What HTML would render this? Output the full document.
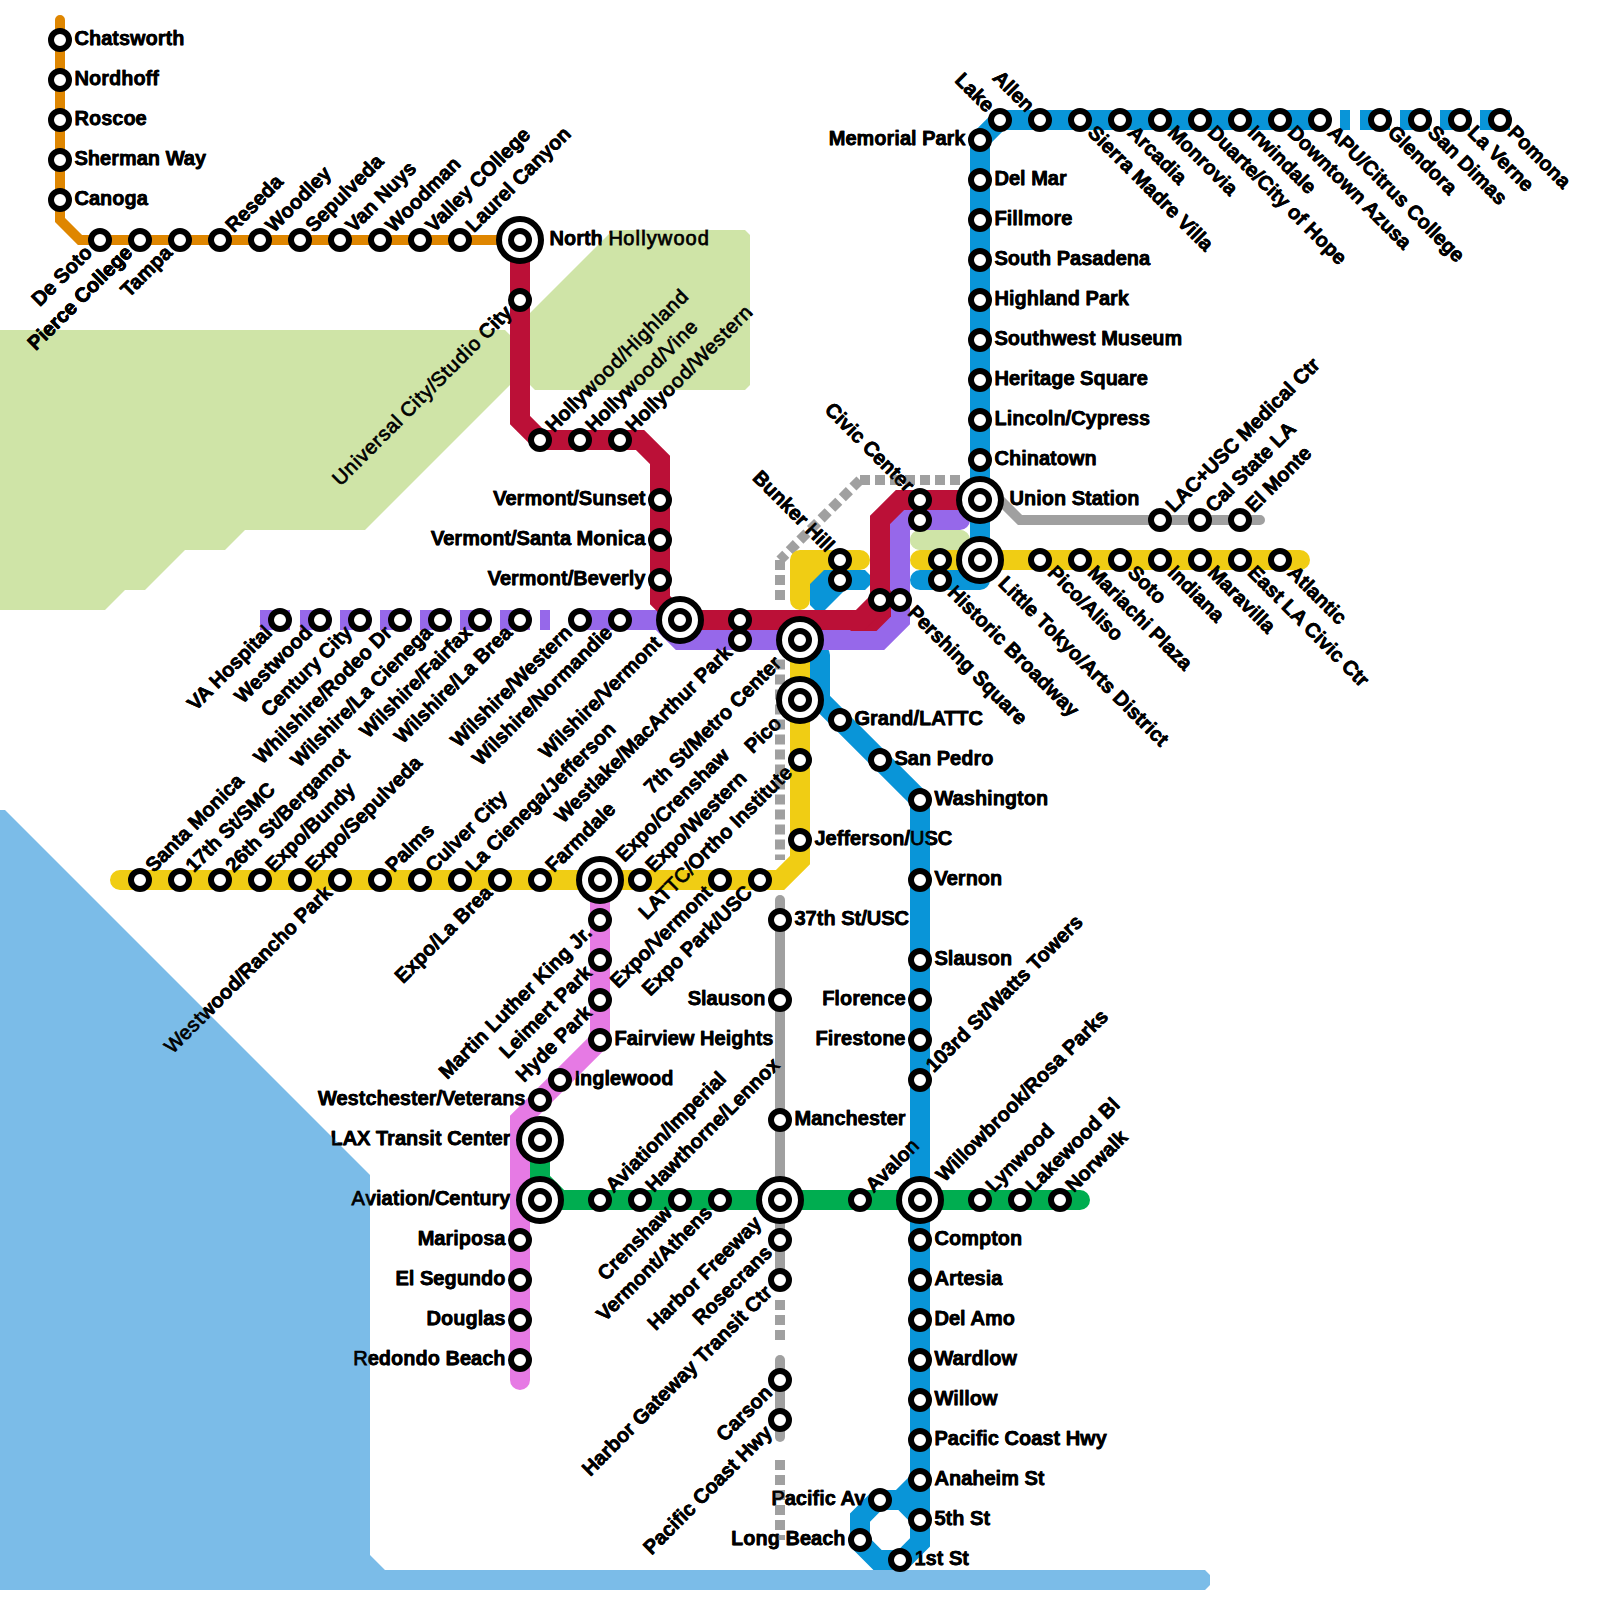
<!DOCTYPE html>
<html><head><meta charset="utf-8"><style>
html,body{margin:0;padding:0;background:#fff;}
svg{display:block;}
.lb text,.tn text{font-family:"Liberation Sans",sans-serif;font-size:20px;}
.lb text{font-weight:bold;}
</style></head><body>
<svg width="1600" height="1600" viewBox="0 0 1600 1600">
<rect width="1600" height="1600" fill="#fff"/>
<g class="lb" fill="#000" stroke="#000" stroke-width="0.5">
<text x="74.5" y="45" text-anchor="start">Chatsworth</text>
<text x="74.5" y="85" text-anchor="start">Nordhoff</text>
<text x="74.5" y="125" text-anchor="start">Roscoe</text>
<text x="74.5" y="165" text-anchor="start">Sherman Way</text>
<text x="74.5" y="205" text-anchor="start">Canoga</text>
<text x="85.5" y="245" text-anchor="end" transform="rotate(-45 100 240)">De Soto</text>
<text x="125.5" y="245" text-anchor="end" transform="rotate(-45 140 240)">Pierce College</text>
<text x="165.5" y="245" text-anchor="end" transform="rotate(-45 180 240)">Tampa</text>
<text x="234.5" y="245" text-anchor="start" transform="rotate(-45 220 240)">Reseda</text>
<text x="274.5" y="245" text-anchor="start" transform="rotate(-45 260 240)">Woodley</text>
<text x="314.5" y="245" text-anchor="start" transform="rotate(-45 300 240)">Sepulveda</text>
<text x="354.5" y="245" text-anchor="start" transform="rotate(-45 340 240)">Van Nuys</text>
<text x="394.5" y="245" text-anchor="start" transform="rotate(-45 380 240)">Woodman</text>
<text x="434.5" y="245" text-anchor="start" transform="rotate(-45 420 240)">Valley COllege</text>
<text x="474.5" y="245" text-anchor="start" transform="rotate(-45 460 240)">Laurel Canyon</text>
<text x="549.5" y="245" text-anchor="start">North Hollywood</text>
<text x="505.5" y="305" text-anchor="end" transform="rotate(-45 520 300)">Universal City/Studio City</text>
<text x="554.5" y="445" text-anchor="start" transform="rotate(-45 540 440)">Hollywood/Highland</text>
<text x="594.5" y="445" text-anchor="start" transform="rotate(-45 580 440)">Hollywood/Vine</text>
<text x="634.5" y="445" text-anchor="start" transform="rotate(-45 620 440)">Hollyood/Western</text>
<text x="645.5" y="505" text-anchor="end">Vermont/Sunset</text>
<text x="645.5" y="545" text-anchor="end">Vermont/Santa Monica</text>
<text x="645.5" y="585" text-anchor="end">Vermont/Beverly</text>
<text x="650.5" y="625" text-anchor="end" transform="rotate(-45 680 620)">Wilshire/Vermont</text>
<text x="725.5" y="645" text-anchor="end" transform="rotate(-45 740 640)">Westlake/MacArthur Park</text>
<text x="770.5" y="645" text-anchor="end" transform="rotate(-45 800 640)">7th St/Metro Center</text>
<text x="914.5" y="605" text-anchor="start" transform="rotate(45 900 600)">Pershing Square</text>
<text x="905.5" y="505" text-anchor="end" transform="rotate(45 920 500)">Civic Center</text>
<text x="1009.5" y="505" text-anchor="start">Union Station</text>
<text x="265.5" y="625" text-anchor="end" transform="rotate(-45 280 620)">VA Hospital</text>
<text x="305.5" y="625" text-anchor="end" transform="rotate(-45 320 620)">Westwood</text>
<text x="345.5" y="625" text-anchor="end" transform="rotate(-45 360 620)">Century City</text>
<text x="385.5" y="625" text-anchor="end" transform="rotate(-45 400 620)">Whilshire/Rodeo Dr</text>
<text x="425.5" y="625" text-anchor="end" transform="rotate(-45 440 620)">Wilshire/La Cienega</text>
<text x="465.5" y="625" text-anchor="end" transform="rotate(-45 480 620)">Wilshire/Fairfax</text>
<text x="505.5" y="625" text-anchor="end" transform="rotate(-45 520 620)">Wilshire/La Brea</text>
<text x="565.5" y="625" text-anchor="end" transform="rotate(-45 580 620)">Wilshire/Western</text>
<text x="605.5" y="625" text-anchor="end" transform="rotate(-45 620 620)">Wilshire/Normandie</text>
<text x="965.5" y="145" text-anchor="end">Memorial Park</text>
<text x="985.5" y="125" text-anchor="end" transform="rotate(45 1000 120)">Lake</text>
<text x="1025.5" y="125" text-anchor="end" transform="rotate(45 1040 120)">Allen</text>
<text x="1094.5" y="125" text-anchor="start" transform="rotate(45 1080 120)">Sierra Madre Villa</text>
<text x="1134.5" y="125" text-anchor="start" transform="rotate(45 1120 120)">Arcadia</text>
<text x="1174.5" y="125" text-anchor="start" transform="rotate(45 1160 120)">Monrovia</text>
<text x="1214.5" y="125" text-anchor="start" transform="rotate(45 1200 120)">Duarte/City of Hope</text>
<text x="1254.5" y="125" text-anchor="start" transform="rotate(45 1240 120)">Irwindale</text>
<text x="1294.5" y="125" text-anchor="start" transform="rotate(45 1280 120)">Downtown Azusa</text>
<text x="1334.5" y="125" text-anchor="start" transform="rotate(45 1320 120)">APU/Citrus College</text>
<text x="1394.5" y="125" text-anchor="start" transform="rotate(45 1380 120)">Glendora</text>
<text x="1434.5" y="125" text-anchor="start" transform="rotate(45 1420 120)">San Dimas</text>
<text x="1474.5" y="125" text-anchor="start" transform="rotate(45 1460 120)">La Verne</text>
<text x="1514.5" y="125" text-anchor="start" transform="rotate(45 1500 120)">Pomona</text>
<text x="994.5" y="185" text-anchor="start">Del Mar</text>
<text x="994.5" y="225" text-anchor="start">Fillmore</text>
<text x="994.5" y="265" text-anchor="start">South Pasadena</text>
<text x="994.5" y="305" text-anchor="start">Highland Park</text>
<text x="994.5" y="345" text-anchor="start">Southwest Museum</text>
<text x="994.5" y="385" text-anchor="start">Heritage Square</text>
<text x="994.5" y="425" text-anchor="start">Lincoln/Cypress</text>
<text x="994.5" y="465" text-anchor="start">Chinatown</text>
<text x="1009.5" y="565" text-anchor="start" transform="rotate(45 980 560)">Little Tokyo/Arts District</text>
<text x="954.5" y="585" text-anchor="start" transform="rotate(45 940 580)">Historic Broadway</text>
<text x="825.5" y="565" text-anchor="end" transform="rotate(45 840 560)">Bunker Hill</text>
<text x="770.5" y="705" text-anchor="end" transform="rotate(-45 800 700)">Pico</text>
<text x="854.5" y="725" text-anchor="start">Grand/LATTC</text>
<text x="894.5" y="765" text-anchor="start">San Pedro</text>
<text x="934.5" y="805" text-anchor="start">Washington</text>
<text x="934.5" y="885" text-anchor="start">Vernon</text>
<text x="934.5" y="965" text-anchor="start">Slauson</text>
<text x="905.5" y="1005" text-anchor="end">Florence</text>
<text x="905.5" y="1045" text-anchor="end">Firestone</text>
<text x="934.5" y="1085" text-anchor="start" transform="rotate(-45 920 1080)">103rd St/Watts Towers</text>
<text x="949.5" y="1205" text-anchor="start" transform="rotate(-45 920 1200)">Willowbrook/Rosa Parks</text>
<text x="934.5" y="1245" text-anchor="start">Compton</text>
<text x="934.5" y="1285" text-anchor="start">Artesia</text>
<text x="934.5" y="1325" text-anchor="start">Del Amo</text>
<text x="934.5" y="1365" text-anchor="start">Wardlow</text>
<text x="934.5" y="1405" text-anchor="start">Willow</text>
<text x="934.5" y="1445" text-anchor="start">Pacific Coast Hwy</text>
<text x="934.5" y="1485" text-anchor="start">Anaheim St</text>
<text x="934.5" y="1525" text-anchor="start">5th St</text>
<text x="914.5" y="1565" text-anchor="start">1st St</text>
<text x="845.5" y="1545" text-anchor="end">Long Beach</text>
<text x="865.5" y="1505" text-anchor="end">Pacific Av</text>
<text x="154.5" y="885" text-anchor="start" transform="rotate(-45 140 880)">Santa Monica</text>
<text x="194.5" y="885" text-anchor="start" transform="rotate(-45 180 880)">17th St/SMC</text>
<text x="234.5" y="885" text-anchor="start" transform="rotate(-45 220 880)">26th St/Bergamot</text>
<text x="274.5" y="885" text-anchor="start" transform="rotate(-45 260 880)">Expo/Bundy</text>
<text x="314.5" y="885" text-anchor="start" transform="rotate(-45 300 880)">Expo/Sepulveda</text>
<text x="325.5" y="885" text-anchor="end" transform="rotate(-45 340 880)">Westwood/Rancho Park</text>
<text x="394.5" y="885" text-anchor="start" transform="rotate(-45 380 880)">Palms</text>
<text x="434.5" y="885" text-anchor="start" transform="rotate(-45 420 880)">Culver City</text>
<text x="474.5" y="885" text-anchor="start" transform="rotate(-45 460 880)">La Cienega/Jefferson</text>
<text x="485.5" y="885" text-anchor="end" transform="rotate(-45 500 880)">Expo/La Brea</text>
<text x="554.5" y="885" text-anchor="start" transform="rotate(-45 540 880)">Farmdale</text>
<text x="654.5" y="885" text-anchor="start" transform="rotate(-45 640 880)">Expo/Western</text>
<text x="705.5" y="885" text-anchor="end" transform="rotate(-45 720 880)">Expo/Vermont</text>
<text x="745.5" y="885" text-anchor="end" transform="rotate(-45 760 880)">Expo Park/USC</text>
<text x="629.5" y="885" text-anchor="start" transform="rotate(-45 600 880)">Expo/Crenshaw</text>
<text x="814.5" y="845" text-anchor="start">Jefferson/USC</text>
<text x="785.5" y="765" text-anchor="end" transform="rotate(-45 800 760)">LATTC/Ortho Institute</text>
<text x="1054.5" y="565" text-anchor="start" transform="rotate(45 1040 560)">Pico/Aliso</text>
<text x="1094.5" y="565" text-anchor="start" transform="rotate(45 1080 560)">Mariachi Plaza</text>
<text x="1134.5" y="565" text-anchor="start" transform="rotate(45 1120 560)">Soto</text>
<text x="1174.5" y="565" text-anchor="start" transform="rotate(45 1160 560)">Indiana</text>
<text x="1214.5" y="565" text-anchor="start" transform="rotate(45 1200 560)">Maravilla</text>
<text x="1254.5" y="565" text-anchor="start" transform="rotate(45 1240 560)">East LA Civic Ctr</text>
<text x="1294.5" y="565" text-anchor="start" transform="rotate(45 1280 560)">Atlantic</text>
<text x="1174.5" y="525" text-anchor="start" transform="rotate(-45 1160 520)">LAC+USC Medical Ctr</text>
<text x="1214.5" y="525" text-anchor="start" transform="rotate(-45 1200 520)">Cal State LA</text>
<text x="1254.5" y="525" text-anchor="start" transform="rotate(-45 1240 520)">El Monte</text>
<text x="794.5" y="925" text-anchor="start">37th St/USC</text>
<text x="765.5" y="1005" text-anchor="end">Slauson</text>
<text x="794.5" y="1125" text-anchor="start">Manchester</text>
<text x="750.5" y="1205" text-anchor="end" transform="rotate(-45 780 1200)">Harbor Freeway</text>
<text x="765.5" y="1245" text-anchor="end" transform="rotate(-45 780 1240)">Rosecrans</text>
<text x="765.5" y="1285" text-anchor="end" transform="rotate(-45 780 1280)">Harbor Gateway Transit Ctr</text>
<text x="765.5" y="1385" text-anchor="end" transform="rotate(-45 780 1380)">Carson</text>
<text x="765.5" y="1425" text-anchor="end" transform="rotate(-45 780 1420)">Pacific Coast Hwy</text>
<text x="585.5" y="925" text-anchor="end" transform="rotate(-45 600 920)">Martin Luther King Jr.</text>
<text x="585.5" y="965" text-anchor="end" transform="rotate(-45 600 960)">Leimert Park</text>
<text x="585.5" y="1005" text-anchor="end" transform="rotate(-45 600 1000)">Hyde Park</text>
<text x="614.5" y="1045" text-anchor="start">Fairview Heights</text>
<text x="574.5" y="1085" text-anchor="start">Inglewood</text>
<text x="525.5" y="1105" text-anchor="end">Westchester/Veterans</text>
<text x="510.5" y="1145" text-anchor="end">LAX Transit Center</text>
<text x="510.5" y="1205" text-anchor="end">Aviation/Century</text>
<text x="505.5" y="1245" text-anchor="end">Mariposa</text>
<text x="505.5" y="1285" text-anchor="end">El Segundo</text>
<text x="505.5" y="1325" text-anchor="end">Douglas</text>
<text x="505.5" y="1365" text-anchor="end">Redondo Beach</text>
<text x="614.5" y="1205" text-anchor="start" transform="rotate(-45 600 1200)">Aviation/Imperial</text>
<text x="654.5" y="1205" text-anchor="start" transform="rotate(-45 640 1200)">Hawthorne/Lennox</text>
<text x="665.5" y="1205" text-anchor="end" transform="rotate(-45 680 1200)">Crenshaw</text>
<text x="705.5" y="1205" text-anchor="end" transform="rotate(-45 720 1200)">Vermont/Athens</text>
<text x="874.5" y="1205" text-anchor="start" transform="rotate(-45 860 1200)">Avalon</text>
<text x="994.5" y="1205" text-anchor="start" transform="rotate(-45 980 1200)">Lynwood</text>
<text x="1034.5" y="1205" text-anchor="start" transform="rotate(-45 1020 1200)">Lakewood Bl</text>
<text x="1074.5" y="1205" text-anchor="start" transform="rotate(-45 1060 1200)">Norwalk</text>
</g>
<polygon points="0,330 505,330 510,335 510,385 365,530 245,530 225,550 185,550 145,590 125,590 105,610 0,610" fill="#cfe4a7"/>
<polygon points="535,390 745,390 750,385 750,235 745,230 613,230 530,313 530,385" fill="#cfe4a7"/>
<path d="M920,540 L960,540" stroke="#cfe4a7" stroke-width="20" stroke-linecap="round"/>
<polygon points="0,810 5,810 370,1175 370,1555 385,1570 1205,1570 1210,1575 1210,1585 1205,1590 0,1590" fill="#7bbce8"/>
<g class="lb" fill="#000" stroke="#000" stroke-width="0.5"><text x="125.5" y="245" text-anchor="end" transform="rotate(-45 140 240)">Pierce College</text></g>
<path d="M960,480 L860,480" stroke="#a0a0a0" stroke-width="10" fill="none" stroke-linecap="butt" stroke-linejoin="miter" stroke-miterlimit="10" stroke-dasharray="10 5" stroke-dashoffset="0"/>
<path d="M860,480 L780,560" stroke="#a0a0a0" stroke-width="10" fill="none" stroke-linecap="butt" stroke-linejoin="miter" stroke-miterlimit="10" stroke-dasharray="10 5" stroke-dashoffset="0"/>
<path d="M780,560 L780,600" stroke="#a0a0a0" stroke-width="10" fill="none" stroke-linecap="butt" stroke-linejoin="miter" stroke-miterlimit="10" stroke-dasharray="10 5" stroke-dashoffset="0"/>
<path d="M780,659.5 L780,860" stroke="#a0a0a0" stroke-width="10" fill="none" stroke-linecap="butt" stroke-linejoin="miter" stroke-miterlimit="10" stroke-dasharray="10 5" stroke-dashoffset="0"/>
<path d="M780,900 L780,1280" stroke="#a0a0a0" stroke-width="10" fill="none" stroke-linecap="round" stroke-linejoin="miter" stroke-miterlimit="10"/>
<path d="M780,1300 L780,1340" stroke="#a0a0a0" stroke-width="10" fill="none" stroke-linecap="butt" stroke-linejoin="miter" stroke-miterlimit="10" stroke-dasharray="10 5" stroke-dashoffset="0"/>
<path d="M780,1360 L780,1437" stroke="#a0a0a0" stroke-width="10" fill="none" stroke-linecap="round" stroke-linejoin="miter" stroke-miterlimit="10"/>
<path d="M780,1460 L780,1540" stroke="#a0a0a0" stroke-width="10" fill="none" stroke-linecap="butt" stroke-linejoin="miter" stroke-miterlimit="10" stroke-dasharray="10 5" stroke-dashoffset="0"/>
<path d="M1000,500 L1020,520 L1260,520" stroke="#a0a0a0" stroke-width="10" fill="none" stroke-linecap="round" stroke-linejoin="miter" stroke-miterlimit="10"/>
<path d="M60,20 L60,220 L80,240 L520,240" stroke="#df8600" stroke-width="10" fill="none" stroke-linecap="round" stroke-linejoin="miter" stroke-miterlimit="10"/>
<path d="M120,880 L780,880 L800,860 L800,640" stroke="#f0cd14" stroke-width="20" fill="none" stroke-linecap="round" stroke-linejoin="miter" stroke-miterlimit="10"/>
<path d="M800,600 L800,560 L860,560" stroke="#f0cd14" stroke-width="20" fill="none" stroke-linecap="round" stroke-linejoin="round" stroke-miterlimit="10"/>
<polygon points="809,569 827,569 809,587" fill="#f0cd14"/>
<path d="M920,560 L1300,560" stroke="#f0cd14" stroke-width="20" fill="none" stroke-linecap="round" stroke-linejoin="miter" stroke-miterlimit="10"/>
<path d="M1320,120 L1000,120 L980,140 L980,560" stroke="#0995d8" stroke-width="20" fill="none" stroke-linecap="round" stroke-linejoin="miter" stroke-miterlimit="10"/>
<path d="M980,500 L980,580 L920,580" stroke="#0995d8" stroke-width="20" fill="none" stroke-linecap="round" stroke-linejoin="round" stroke-miterlimit="10"/>
<path d="M1510,120 L1340,120" stroke="#0995d8" stroke-width="20" fill="none" stroke-linecap="butt" stroke-linejoin="miter" stroke-miterlimit="10" stroke-dasharray="30 10" stroke-dashoffset="0"/>
<path d="M824,570 L865,570 L870,575 L870,585 L865,590 L845,590 L825,610 L815,610 L810,605 L810,584 Z" fill="#0995d8"/>
<path d="M820,655 L820,700 L920,800 L920,1530" stroke="#0995d8" stroke-width="20" fill="none" stroke-linecap="round" stroke-linejoin="miter" stroke-miterlimit="10"/>
<path d="M920,1480 L900,1500" stroke="#0995d8" stroke-width="20" fill="none" stroke-linecap="butt" stroke-linejoin="miter" stroke-miterlimit="10"/>
<path d="M877.57,1500 L902.43,1500 L920,1517.57 L920,1542.43 L902.43,1560 L877.57,1560 L860,1542.43 L860,1517.57 Z" stroke="#0995d8" stroke-width="20" fill="none" stroke-linejoin="miter"/>
<path d="M540,1140 L540,1180 L560,1200 L1080,1200" stroke="#00ad50" stroke-width="20" fill="none" stroke-linecap="round" stroke-linejoin="miter" stroke-miterlimit="10"/>
<path d="M600,880 L600,1040 L520,1120 L520,1380" stroke="#e67ae4" stroke-width="20" fill="none" stroke-linecap="round" stroke-linejoin="miter" stroke-miterlimit="10"/>
<path d="M580,620 L660,620 L680,640 L880,640 L900,620 L900,580" stroke="#9668ea" stroke-width="20" fill="none" stroke-linecap="round" stroke-linejoin="miter" stroke-miterlimit="10"/>
<path d="M900,600 L900,520 L960,520" stroke="#9668ea" stroke-width="20" fill="none" stroke-linecap="round" stroke-linejoin="round" stroke-miterlimit="10"/>
<path d="M920,540 L960,540" stroke="#cfe4a7" stroke-width="20" stroke-linecap="round"/>
<path d="M260,620 L550,620" stroke="#9668ea" stroke-width="20" fill="none" stroke-linecap="butt" stroke-linejoin="miter" stroke-miterlimit="10" stroke-dasharray="30 10" stroke-dashoffset="0"/>
<polygon points="850,631 876.5,631 891,616.5 891,590" fill="#bb1037"/>
<path d="M520,240 L520,420 L540,440 L640,440 L660,460 L660,600 L680,620 L860,620 L880,600 L880,520 L900,500 L980,500" stroke="#bb1037" stroke-width="20" fill="none" stroke-linecap="round" stroke-linejoin="miter" stroke-miterlimit="10"/>
<circle cx="60" cy="40" r="9" fill="#fff" stroke="#000" stroke-width="6"/>
<circle cx="60" cy="80" r="9" fill="#fff" stroke="#000" stroke-width="6"/>
<circle cx="60" cy="120" r="9" fill="#fff" stroke="#000" stroke-width="6"/>
<circle cx="60" cy="160" r="9" fill="#fff" stroke="#000" stroke-width="6"/>
<circle cx="60" cy="200" r="9" fill="#fff" stroke="#000" stroke-width="6"/>
<circle cx="100" cy="240" r="9" fill="#fff" stroke="#000" stroke-width="6"/>
<circle cx="140" cy="240" r="9" fill="#fff" stroke="#000" stroke-width="6"/>
<circle cx="180" cy="240" r="9" fill="#fff" stroke="#000" stroke-width="6"/>
<circle cx="220" cy="240" r="9" fill="#fff" stroke="#000" stroke-width="6"/>
<circle cx="260" cy="240" r="9" fill="#fff" stroke="#000" stroke-width="6"/>
<circle cx="300" cy="240" r="9" fill="#fff" stroke="#000" stroke-width="6"/>
<circle cx="340" cy="240" r="9" fill="#fff" stroke="#000" stroke-width="6"/>
<circle cx="380" cy="240" r="9" fill="#fff" stroke="#000" stroke-width="6"/>
<circle cx="420" cy="240" r="9" fill="#fff" stroke="#000" stroke-width="6"/>
<circle cx="460" cy="240" r="9" fill="#fff" stroke="#000" stroke-width="6"/>
<circle cx="520" cy="240" r="21" fill="#fff" stroke="#000" stroke-width="6"/><circle cx="520" cy="240" r="9" fill="#fff" stroke="#000" stroke-width="6"/>
<circle cx="520" cy="300" r="9" fill="#fff" stroke="#000" stroke-width="6"/>
<circle cx="540" cy="440" r="9" fill="#fff" stroke="#000" stroke-width="6"/>
<circle cx="580" cy="440" r="9" fill="#fff" stroke="#000" stroke-width="6"/>
<circle cx="620" cy="440" r="9" fill="#fff" stroke="#000" stroke-width="6"/>
<circle cx="660" cy="500" r="9" fill="#fff" stroke="#000" stroke-width="6"/>
<circle cx="660" cy="540" r="9" fill="#fff" stroke="#000" stroke-width="6"/>
<circle cx="660" cy="580" r="9" fill="#fff" stroke="#000" stroke-width="6"/>
<circle cx="680" cy="620" r="21" fill="#fff" stroke="#000" stroke-width="6"/><circle cx="680" cy="620" r="9" fill="#fff" stroke="#000" stroke-width="6"/>
<circle cx="740" cy="620" r="9" fill="#fff" stroke="#000" stroke-width="6"/>
<circle cx="740" cy="640" r="9" fill="#fff" stroke="#000" stroke-width="6"/>
<circle cx="800" cy="640" r="21" fill="#fff" stroke="#000" stroke-width="6"/><circle cx="800" cy="640" r="9" fill="#fff" stroke="#000" stroke-width="6"/>
<circle cx="880" cy="600" r="9" fill="#fff" stroke="#000" stroke-width="6"/>
<circle cx="900" cy="600" r="9" fill="#fff" stroke="#000" stroke-width="6"/>
<circle cx="920" cy="520" r="9" fill="#fff" stroke="#000" stroke-width="6"/>
<circle cx="920" cy="500" r="9" fill="#fff" stroke="#000" stroke-width="6"/>
<circle cx="980" cy="500" r="21" fill="#fff" stroke="#000" stroke-width="6"/><circle cx="980" cy="500" r="9" fill="#fff" stroke="#000" stroke-width="6"/>
<circle cx="280" cy="620" r="9" fill="#fff" stroke="#000" stroke-width="6"/>
<circle cx="320" cy="620" r="9" fill="#fff" stroke="#000" stroke-width="6"/>
<circle cx="360" cy="620" r="9" fill="#fff" stroke="#000" stroke-width="6"/>
<circle cx="400" cy="620" r="9" fill="#fff" stroke="#000" stroke-width="6"/>
<circle cx="440" cy="620" r="9" fill="#fff" stroke="#000" stroke-width="6"/>
<circle cx="480" cy="620" r="9" fill="#fff" stroke="#000" stroke-width="6"/>
<circle cx="520" cy="620" r="9" fill="#fff" stroke="#000" stroke-width="6"/>
<circle cx="580" cy="620" r="9" fill="#fff" stroke="#000" stroke-width="6"/>
<circle cx="620" cy="620" r="9" fill="#fff" stroke="#000" stroke-width="6"/>
<circle cx="980" cy="140" r="9" fill="#fff" stroke="#000" stroke-width="6"/>
<circle cx="1000" cy="120" r="9" fill="#fff" stroke="#000" stroke-width="6"/>
<circle cx="1040" cy="120" r="9" fill="#fff" stroke="#000" stroke-width="6"/>
<circle cx="1080" cy="120" r="9" fill="#fff" stroke="#000" stroke-width="6"/>
<circle cx="1120" cy="120" r="9" fill="#fff" stroke="#000" stroke-width="6"/>
<circle cx="1160" cy="120" r="9" fill="#fff" stroke="#000" stroke-width="6"/>
<circle cx="1200" cy="120" r="9" fill="#fff" stroke="#000" stroke-width="6"/>
<circle cx="1240" cy="120" r="9" fill="#fff" stroke="#000" stroke-width="6"/>
<circle cx="1280" cy="120" r="9" fill="#fff" stroke="#000" stroke-width="6"/>
<circle cx="1320" cy="120" r="9" fill="#fff" stroke="#000" stroke-width="6"/>
<circle cx="1380" cy="120" r="9" fill="#fff" stroke="#000" stroke-width="6"/>
<circle cx="1420" cy="120" r="9" fill="#fff" stroke="#000" stroke-width="6"/>
<circle cx="1460" cy="120" r="9" fill="#fff" stroke="#000" stroke-width="6"/>
<circle cx="1500" cy="120" r="9" fill="#fff" stroke="#000" stroke-width="6"/>
<circle cx="980" cy="180" r="9" fill="#fff" stroke="#000" stroke-width="6"/>
<circle cx="980" cy="220" r="9" fill="#fff" stroke="#000" stroke-width="6"/>
<circle cx="980" cy="260" r="9" fill="#fff" stroke="#000" stroke-width="6"/>
<circle cx="980" cy="300" r="9" fill="#fff" stroke="#000" stroke-width="6"/>
<circle cx="980" cy="340" r="9" fill="#fff" stroke="#000" stroke-width="6"/>
<circle cx="980" cy="380" r="9" fill="#fff" stroke="#000" stroke-width="6"/>
<circle cx="980" cy="420" r="9" fill="#fff" stroke="#000" stroke-width="6"/>
<circle cx="980" cy="460" r="9" fill="#fff" stroke="#000" stroke-width="6"/>
<circle cx="980" cy="560" r="21" fill="#fff" stroke="#000" stroke-width="6"/><circle cx="980" cy="560" r="9" fill="#fff" stroke="#000" stroke-width="6"/>
<circle cx="940" cy="560" r="9" fill="#fff" stroke="#000" stroke-width="6"/>
<circle cx="940" cy="580" r="9" fill="#fff" stroke="#000" stroke-width="6"/>
<circle cx="840" cy="580" r="9" fill="#fff" stroke="#000" stroke-width="6"/>
<circle cx="840" cy="560" r="9" fill="#fff" stroke="#000" stroke-width="6"/>
<circle cx="800" cy="700" r="21" fill="#fff" stroke="#000" stroke-width="6"/><circle cx="800" cy="700" r="9" fill="#fff" stroke="#000" stroke-width="6"/>
<circle cx="840" cy="720" r="9" fill="#fff" stroke="#000" stroke-width="6"/>
<circle cx="880" cy="760" r="9" fill="#fff" stroke="#000" stroke-width="6"/>
<circle cx="920" cy="800" r="9" fill="#fff" stroke="#000" stroke-width="6"/>
<circle cx="920" cy="880" r="9" fill="#fff" stroke="#000" stroke-width="6"/>
<circle cx="920" cy="960" r="9" fill="#fff" stroke="#000" stroke-width="6"/>
<circle cx="920" cy="1000" r="9" fill="#fff" stroke="#000" stroke-width="6"/>
<circle cx="920" cy="1040" r="9" fill="#fff" stroke="#000" stroke-width="6"/>
<circle cx="920" cy="1080" r="9" fill="#fff" stroke="#000" stroke-width="6"/>
<circle cx="920" cy="1200" r="21" fill="#fff" stroke="#000" stroke-width="6"/><circle cx="920" cy="1200" r="9" fill="#fff" stroke="#000" stroke-width="6"/>
<circle cx="920" cy="1240" r="9" fill="#fff" stroke="#000" stroke-width="6"/>
<circle cx="920" cy="1280" r="9" fill="#fff" stroke="#000" stroke-width="6"/>
<circle cx="920" cy="1320" r="9" fill="#fff" stroke="#000" stroke-width="6"/>
<circle cx="920" cy="1360" r="9" fill="#fff" stroke="#000" stroke-width="6"/>
<circle cx="920" cy="1400" r="9" fill="#fff" stroke="#000" stroke-width="6"/>
<circle cx="920" cy="1440" r="9" fill="#fff" stroke="#000" stroke-width="6"/>
<circle cx="920" cy="1480" r="9" fill="#fff" stroke="#000" stroke-width="6"/>
<circle cx="920" cy="1520" r="9" fill="#fff" stroke="#000" stroke-width="6"/>
<circle cx="900" cy="1560" r="9" fill="#fff" stroke="#000" stroke-width="6"/>
<circle cx="860" cy="1540" r="9" fill="#fff" stroke="#000" stroke-width="6"/>
<circle cx="880" cy="1500" r="9" fill="#fff" stroke="#000" stroke-width="6"/>
<circle cx="140" cy="880" r="9" fill="#fff" stroke="#000" stroke-width="6"/>
<circle cx="180" cy="880" r="9" fill="#fff" stroke="#000" stroke-width="6"/>
<circle cx="220" cy="880" r="9" fill="#fff" stroke="#000" stroke-width="6"/>
<circle cx="260" cy="880" r="9" fill="#fff" stroke="#000" stroke-width="6"/>
<circle cx="300" cy="880" r="9" fill="#fff" stroke="#000" stroke-width="6"/>
<circle cx="340" cy="880" r="9" fill="#fff" stroke="#000" stroke-width="6"/>
<circle cx="380" cy="880" r="9" fill="#fff" stroke="#000" stroke-width="6"/>
<circle cx="420" cy="880" r="9" fill="#fff" stroke="#000" stroke-width="6"/>
<circle cx="460" cy="880" r="9" fill="#fff" stroke="#000" stroke-width="6"/>
<circle cx="500" cy="880" r="9" fill="#fff" stroke="#000" stroke-width="6"/>
<circle cx="540" cy="880" r="9" fill="#fff" stroke="#000" stroke-width="6"/>
<circle cx="640" cy="880" r="9" fill="#fff" stroke="#000" stroke-width="6"/>
<circle cx="720" cy="880" r="9" fill="#fff" stroke="#000" stroke-width="6"/>
<circle cx="760" cy="880" r="9" fill="#fff" stroke="#000" stroke-width="6"/>
<circle cx="600" cy="880" r="21" fill="#fff" stroke="#000" stroke-width="6"/><circle cx="600" cy="880" r="9" fill="#fff" stroke="#000" stroke-width="6"/>
<circle cx="800" cy="840" r="9" fill="#fff" stroke="#000" stroke-width="6"/>
<circle cx="800" cy="760" r="9" fill="#fff" stroke="#000" stroke-width="6"/>
<circle cx="1040" cy="560" r="9" fill="#fff" stroke="#000" stroke-width="6"/>
<circle cx="1080" cy="560" r="9" fill="#fff" stroke="#000" stroke-width="6"/>
<circle cx="1120" cy="560" r="9" fill="#fff" stroke="#000" stroke-width="6"/>
<circle cx="1160" cy="560" r="9" fill="#fff" stroke="#000" stroke-width="6"/>
<circle cx="1200" cy="560" r="9" fill="#fff" stroke="#000" stroke-width="6"/>
<circle cx="1240" cy="560" r="9" fill="#fff" stroke="#000" stroke-width="6"/>
<circle cx="1280" cy="560" r="9" fill="#fff" stroke="#000" stroke-width="6"/>
<circle cx="1160" cy="520" r="9" fill="#fff" stroke="#000" stroke-width="6"/>
<circle cx="1200" cy="520" r="9" fill="#fff" stroke="#000" stroke-width="6"/>
<circle cx="1240" cy="520" r="9" fill="#fff" stroke="#000" stroke-width="6"/>
<circle cx="780" cy="920" r="9" fill="#fff" stroke="#000" stroke-width="6"/>
<circle cx="780" cy="1000" r="9" fill="#fff" stroke="#000" stroke-width="6"/>
<circle cx="780" cy="1120" r="9" fill="#fff" stroke="#000" stroke-width="6"/>
<circle cx="780" cy="1200" r="21" fill="#fff" stroke="#000" stroke-width="6"/><circle cx="780" cy="1200" r="9" fill="#fff" stroke="#000" stroke-width="6"/>
<circle cx="780" cy="1240" r="9" fill="#fff" stroke="#000" stroke-width="6"/>
<circle cx="780" cy="1280" r="9" fill="#fff" stroke="#000" stroke-width="6"/>
<circle cx="780" cy="1380" r="9" fill="#fff" stroke="#000" stroke-width="6"/>
<circle cx="780" cy="1420" r="9" fill="#fff" stroke="#000" stroke-width="6"/>
<circle cx="600" cy="920" r="9" fill="#fff" stroke="#000" stroke-width="6"/>
<circle cx="600" cy="960" r="9" fill="#fff" stroke="#000" stroke-width="6"/>
<circle cx="600" cy="1000" r="9" fill="#fff" stroke="#000" stroke-width="6"/>
<circle cx="600" cy="1040" r="9" fill="#fff" stroke="#000" stroke-width="6"/>
<circle cx="560" cy="1080" r="9" fill="#fff" stroke="#000" stroke-width="6"/>
<circle cx="540" cy="1100" r="9" fill="#fff" stroke="#000" stroke-width="6"/>
<circle cx="540" cy="1140" r="21" fill="#fff" stroke="#000" stroke-width="6"/><circle cx="540" cy="1140" r="9" fill="#fff" stroke="#000" stroke-width="6"/>
<circle cx="540" cy="1200" r="21" fill="#fff" stroke="#000" stroke-width="6"/><circle cx="540" cy="1200" r="9" fill="#fff" stroke="#000" stroke-width="6"/>
<circle cx="520" cy="1240" r="9" fill="#fff" stroke="#000" stroke-width="6"/>
<circle cx="520" cy="1280" r="9" fill="#fff" stroke="#000" stroke-width="6"/>
<circle cx="520" cy="1320" r="9" fill="#fff" stroke="#000" stroke-width="6"/>
<circle cx="520" cy="1360" r="9" fill="#fff" stroke="#000" stroke-width="6"/>
<circle cx="600" cy="1200" r="9" fill="#fff" stroke="#000" stroke-width="6"/>
<circle cx="640" cy="1200" r="9" fill="#fff" stroke="#000" stroke-width="6"/>
<circle cx="680" cy="1200" r="9" fill="#fff" stroke="#000" stroke-width="6"/>
<circle cx="720" cy="1200" r="9" fill="#fff" stroke="#000" stroke-width="6"/>
<circle cx="860" cy="1200" r="9" fill="#fff" stroke="#000" stroke-width="6"/>
<circle cx="980" cy="1200" r="9" fill="#fff" stroke="#000" stroke-width="6"/>
<circle cx="1020" cy="1200" r="9" fill="#fff" stroke="#000" stroke-width="6"/>
<circle cx="1060" cy="1200" r="9" fill="#fff" stroke="#000" stroke-width="6"/>
<g class="tn" fill="#000" stroke="#000" stroke-width="0.75">
<text x="74.50 89.48 101.16 112.84 119.50 130.61 146.16 158.39 166.17 172.82" y="45">Chatsworth</text>
<text x="74.50 89.48 101.72 109.48 121.70 133.91 146.33 152.80" y="85">Nordhoff</text>
<text x="74.50 89.48 101.72 112.84 123.95 135.62" y="125">Roscoe</text>
<text x="74.50 88.38 100.05 111.73 119.52 136.74 148.41 160.08 165.64 183.77 195.45" y="165">Sherman Way</text>
<text x="74.50 88.94 100.61 112.83 125.05 136.70" y="205">Canoga</text>
<text x="9.94 24.38 35.50 41.05 54.94 67.16 73.82" y="245" transform="rotate(-45 100 240)">De Soto</text>
<text x="-12.34 1.54 6.55 18.23 26.02 36.58 47.70 53.25 68.25 80.48 86.03 91.03 102.70 114.37" y="245" transform="rotate(-45 140 240)">Pierce College</text>
<text x="102.88 113.24 124.91 142.70 154.37" y="245" transform="rotate(-45 180 240)">Tampa</text>
<text x="234.50 248.94 260.62 271.18 282.86 294.52" y="245" transform="rotate(-45 220 240)">Reseda</text>
<text x="274.50 293.56 305.77 317.98 330.22 335.23 346.90" y="245" transform="rotate(-45 260 240)">Woodley</text>
<text x="314.50 327.83 339.50 351.72 363.95 369.51 380.06 391.73 403.41" y="245" transform="rotate(-45 300 240)">Sepulveda</text>
<text x="354.70 366.73 378.40 390.06 395.62 410.61 422.84 433.97" y="245" transform="rotate(-45 340 240)">Van Nuys</text>
<text x="394.50 413.56 425.77 437.98 450.22 467.44 479.11" y="245" transform="rotate(-45 380 240)">Woodman</text>
<text x="434.70 446.73 458.41 463.97 468.97 480.65 491.22 496.76 511.22 527.32 532.88 537.88 549.55 561.22" y="245" transform="rotate(-45 420 240)">Valley COllege</text>
<text x="475.05 486.70 498.38 510.61 517.83 529.51 534.52 540.06 554.52 566.19 578.41 589.52 601.73" y="245" transform="rotate(-45 460 240)">Laurel Canyon</text>
<text x="549.50 564.48 576.72 584.48 591.15 602.82 608.38 623.37 635.58 641.15 646.70 657.83 673.38 685.59 697.80" y="245">North Hollywood</text>
<text x="261.00 275.98 288.21 293.77 304.33 316.02 323.80 334.36 346.05 351.05 356.60 371.60 377.15 383.83 394.38 399.94 413.84 420.49 432.70 444.92 450.48 462.15 467.70 482.70 488.26 494.93" y="305" transform="rotate(-45 520 300)">Universal City/Studio City</text>
<text x="554.50 569.48 581.71 587.27 592.84 603.95 619.49 631.70 643.93 655.60 661.16 676.16 681.70 693.91 706.15 711.14 722.81 735.03" y="445" transform="rotate(-45 540 440)">Hollywood/Highland</text>
<text x="594.50 609.48 621.71 627.27 632.84 643.95 659.49 671.70 683.93 695.60 701.15 714.69 720.23 731.91" y="445" transform="rotate(-45 580 440)">Hollywood/Vine</text>
<text x="634.50 649.48 661.71 667.27 672.84 683.95 696.16 708.37 720.04 725.59 744.11 755.80 766.91 773.02 784.70 792.47" y="445" transform="rotate(-45 620 440)">Hollyood/Western</text>
<text x="493.23 505.47 517.16 524.94 542.70 554.91 567.15 573.24 578.80 592.69 604.91 617.15 627.71 639.38" y="505">Vermont/Sunset</text>
<text x="431.00 443.23 454.92 462.70 480.47 492.68 504.91 511.01 516.56 529.91 541.59 553.80 559.91 571.03 576.59 593.80 606.02 618.24 623.80 634.36" y="545">Vermont/Santa Monica</text>
<text x="487.64 499.88 511.56 519.34 537.11 549.32 561.55 567.65 573.76 587.66 599.34 609.91 621.58 629.37 634.92" y="585">Vermont/Beverly</text>
<text x="487.20 506.55 512.11 517.66 528.77 540.99 546.56 553.78 564.91 570.47 582.71 594.38 602.17 619.94 632.16 644.38" y="625" transform="rotate(-45 680 620)">Wilshire/Vermont</text>
<text x="484.66 503.17 514.84 525.95 532.63 537.62 549.31 559.88 570.99 576.55 593.21 604.90 616.01 630.47 638.24 644.90 657.11 669.34 676.57 682.12 695.45 707.14 714.92" y="645" transform="rotate(-45 740 640)">Westlake/MacArthur Park</text>
<text x="586.03 597.70 604.35 616.03 621.59 635.47 641.59 647.14 663.80 675.48 682.14 689.91 701.58 707.14 721.58 733.25 745.47 751.58 763.27" y="645" transform="rotate(-45 800 640)">7th St/Metro Center</text>
<text x="914.50 927.83 939.52 947.30 958.41 970.63 976.19 988.41 1000.06 1005.62 1019.52 1031.73 1043.41 1055.07 1062.31" y="605" transform="rotate(45 900 600)">Pershing Square</text>
<text x="788.78 803.77 809.34 820.45 826.02 836.58 842.13 856.59 868.26 880.47 886.58 898.27" y="505" transform="rotate(45 920 500)">Civic Center</text>
<text x="1009.50 1024.48 1036.71 1042.25 1054.47 1066.15 1071.70 1085.59 1091.70 1103.38 1110.03 1115.59 1127.80" y="505">Union Station</text>
<text x="155.48 168.06 181.03 186.59 201.58 213.81 224.92 237.15 242.70 248.80 260.49" y="625" transform="rotate(-45 280 620)">VA Hospital</text>
<text x="205.86 224.38 236.05 247.16 253.84 269.38 281.59 293.81" y="625" transform="rotate(-45 320 620)">Westwood</text>
<text x="226.59 241.03 252.70 264.93 271.58 283.81 291.59 302.15 307.71 322.70 328.27 334.93" y="625" transform="rotate(-45 360 620)">Century City</text>
<text x="199.92 219.34 231.57 237.12 242.69 253.79 266.02 271.58 278.80 289.93 295.48 310.48 322.70 334.36 346.03 357.70 363.26 378.27" y="625" transform="rotate(-45 400 620)">Whilshire/Rodeo Dr</text>
<text x="235.53 254.88 260.44 265.99 277.10 289.32 294.89 302.11 313.24 319.34 331.01 342.12 347.69 362.69 367.70 379.36 391.03 402.70 414.37" y="625" transform="rotate(-45 440 620)">Wilshire/La Cienega</text>
<text x="316.64 335.98 341.55 347.10 358.21 370.43 376.00 383.22 394.35 399.90 412.12 423.80 429.36 437.13 443.23 454.92" y="625" transform="rotate(-45 480 620)">Wilshire/Fairfax</text>
<text x="348.86 368.20 373.77 379.32 390.43 402.65 408.22 415.44 426.57 432.66 444.34 455.45 461.57 476.02 483.24 494.37" y="625" transform="rotate(-45 520 620)">Wilshire/La Brea</text>
<text x="403.69 423.03 428.59 434.15 445.26 457.48 463.05 470.27 481.40 486.95 505.46 517.15 528.26 534.37 546.06 553.82" y="625" transform="rotate(-45 580 620)">Wilshire/Western</text>
<text x="417.77 437.11 442.67 448.23 459.34 471.55 477.12 484.34 495.48 501.02 516.02 528.25 536.03 553.25 564.92 577.14 589.37 594.36" y="625" transform="rotate(-45 620 620)">Wilshire/Normandie</text>
<text x="828.77 845.42 857.11 874.88 887.11 894.88 899.88 911.55 916.56 922.12 935.45 947.14 954.92" y="145">Memorial Park</text>
<text x="940.45 952.11 963.80 974.36" y="125" transform="rotate(45 1000 120)">Lake</text>
<text x="977.15 991.58 997.15 1002.14 1013.81" y="125" transform="rotate(45 1040 120)">Allen</text>
<text x="1094.50 1108.38 1113.40 1125.08 1132.86 1140.08 1151.20 1156.77 1173.42 1185.09 1197.33 1204.54 1215.67 1221.22 1234.76 1240.30 1245.88 1250.87" y="125" transform="rotate(45 1080 120)">Sierra Madre Villa</text>
<text x="1135.05 1149.50 1157.29 1167.85 1179.52 1191.73 1196.74" y="125" transform="rotate(45 1120 120)">Arcadia</text>
<text x="1174.50 1191.70 1203.92 1216.16 1223.91 1236.15 1247.27 1252.27" y="125" transform="rotate(45 1160 120)">Monrovia</text>
<text x="1214.50 1229.48 1241.16 1252.84 1260.62 1266.73 1277.84 1283.41 1298.39 1303.96 1310.62 1321.18 1327.28 1339.51 1345.62 1351.17 1366.16 1378.38 1390.05" y="125" transform="rotate(45 1200 120)">Duarte/City of Hope</text>
<text x="1254.50 1260.61 1268.38 1283.95 1289.49 1301.70 1313.38 1325.06 1330.06" y="125" transform="rotate(45 1240 120)">Irwindale</text>
<text x="1294.50 1309.48 1321.71 1337.25 1349.47 1356.14 1368.36 1383.91 1395.76 1400.95 1414.84 1425.38 1437.61 1448.17" y="125" transform="rotate(45 1280 120)">Downtown Azusa</text>
<text x="1335.05 1348.94 1362.28 1376.72 1382.28 1397.27 1402.84 1409.49 1417.27 1429.51 1440.06 1445.62 1460.62 1472.83 1478.39 1483.39 1495.06 1506.73" y="125" transform="rotate(45 1320 120)">APU/Citrus College</text>
<text x="1394.50 1410.61 1415.62 1427.27 1439.49 1451.70 1463.94 1471.16" y="125" transform="rotate(45 1380 120)">Glendora</text>
<text x="1434.50 1447.83 1459.50 1471.17 1476.73 1491.73 1497.29 1514.52 1526.20" y="125" transform="rotate(45 1420 120)">San Dimas</text>
<text x="1475.05 1486.70 1497.83 1503.39 1515.62 1527.31 1535.08 1546.75" y="125" transform="rotate(45 1460 120)">La Verne</text>
<text x="1514.50 1528.38 1540.61 1558.38 1570.59 1582.27" y="125" transform="rotate(45 1500 120)">Pomona</text>
<text x="994.50 1008.94 1020.62 1025.61 1031.17 1047.83 1059.52" y="185">Del Mar</text>
<text x="994.50 1007.26 1012.83 1018.38 1023.94 1041.70 1053.94 1061.16" y="225">Fillmore</text>
<text x="994.50 1008.38 1020.59 1032.81 1039.48 1051.15 1056.70 1070.04 1081.72 1092.28 1103.96 1115.63 1127.30 1138.97" y="265">South Pasadena</text>
<text x="994.50 1009.49 1015.04 1027.25 1039.48 1044.48 1056.16 1068.37 1080.04 1085.60 1098.94 1110.62 1118.41" y="305">Highland Park</text>
<text x="994.50 1008.38 1020.59 1032.81 1039.48 1051.70 1066.70 1078.38 1089.51 1095.60 1101.16 1118.37 1130.60 1141.16 1152.83 1165.06" y="345">Southwest Museum</text>
<text x="994.50 1008.94 1020.62 1028.40 1033.95 1040.06 1051.73 1063.40 1074.52 1080.08 1093.97 1106.18 1117.85 1129.53 1136.76" y="385">Heritage Square</text>
<text x="995.05 1007.26 1012.81 1025.05 1036.16 1048.38 1053.92 1065.60 1071.15 1086.16 1097.27 1109.50 1116.72 1128.41 1139.53" y="425">Lincoln/Cypress</text>
<text x="994.50 1009.48 1021.71 1027.25 1038.92 1050.60 1057.26 1069.48 1085.03" y="465">Chinatown</text>
<text x="1010.05 1022.26 1027.82 1034.47 1041.15 1046.14 1057.45 1063.19 1074.10 1086.33 1097.45 1108.57 1120.24 1126.34 1140.80 1148.56 1155.23 1165.80 1171.35 1186.36 1191.92 1203.03 1209.70 1217.48 1223.05 1234.16" y="565" transform="rotate(45 980 560)">Little Tokyo/Arts District</text>
<text x="954.50 969.49 975.05 986.16 992.82 1005.06 1012.84 1018.39 1028.95 1035.06 1049.52 1057.28 1068.95 1080.62 1092.85 1107.85 1119.53" y="585" transform="rotate(45 940 580)">Historic Broadway</text>
<text x="720.48 734.91 747.12 759.35 769.91 781.59 788.82 794.38 809.38 814.94 820.49" y="565" transform="rotate(45 840 560)">Bunker Hill</text>
<text x="728.25 742.13 747.70 758.82" y="705" transform="rotate(-45 800 700)">Pico</text>
<text x="854.50 870.61 877.83 889.50 901.72 913.38 919.50 931.72 944.12 956.34 968.56" y="725">Grand/LATTC</text>
<text x="894.50 907.83 919.50 931.17 936.73 950.06 961.73 973.97 981.73" y="765">San Pedro</text>
<text x="934.50 952.62 964.31 975.42 987.65 993.19 1005.41 1017.62 1024.29 1036.51" y="805">Washington</text>
<text x="934.50 946.73 958.42 966.18 978.41 990.62" y="885">Vernon</text>
<text x="934.50 948.38 953.40 965.07 977.29 988.40 1000.61" y="965">Slauson</text>
<text x="822.14 834.90 840.45 852.69 859.91 871.58 883.81 894.38" y="1005">Florence</text>
<text x="815.47 828.23 833.80 841.02 852.70 863.82 870.48 882.69 894.36" y="1045">Firestone</text>
<text x="934.50 945.61 956.73 968.42 976.19 987.86 993.41 1007.32 1013.41 1018.98 1037.12 1048.78 1055.44 1062.11 1072.86 1078.60 1089.52 1101.74 1116.73 1128.42 1136.21" y="1085" transform="rotate(-45 920 1080)">103rd St/Watts Towers</text>
<text x="949.41 968.75 974.31 979.86 985.41 997.64 1013.19 1025.42 1033.19 1045.40 1057.63 1068.20 1073.75 1088.73 1100.97 1111.53 1122.66 1128.21 1141.55 1153.23 1161.02 1172.14" y="1205" transform="rotate(-45 920 1200)">Willowbrook/Rosa Parks</text>
<text x="934.50 949.48 961.72 979.48 991.71 998.37 1010.58" y="1245">Compton</text>
<text x="935.05 949.50 957.27 963.38 975.06 986.19 991.18" y="1285">Artesia</text>
<text x="934.50 948.94 960.62 965.79 970.98 985.44 1003.20" y="1325">Del Amo</text>
<text x="934.50 952.62 964.31 972.08 984.31 989.86 1002.08" y="1365">Wardlow</text>
<text x="934.41 953.75 959.31 964.86 970.41 982.64" y="1405">Willow</text>
<text x="934.50 947.83 959.52 970.64 976.20 982.85 988.42 998.98 1004.53 1019.52 1031.19 1042.88 1053.98 1060.10 1065.66 1080.66 1096.22" y="1445">Pacific Coast Hwy</text>
<text x="935.05 949.48 961.16 972.82 984.49 996.17 1001.73 1018.95 1024.51 1038.41" y="1485">Anaheim St</text>
<text x="934.50 946.16 952.82 964.50 970.05 983.94" y="1525">5th St</text>
<text x="914.50 926.17 937.28 943.40 948.96 962.84" y="1565">1st St</text>
<text x="731.59 743.80 756.02 768.23 779.91 786.02 799.91 811.03 822.72 833.82" y="1545">Long Beach</text>
<text x="771.38 784.70 796.39 807.52 813.07 819.73 825.30 836.03 841.03 854.92" y="1505">Pacific Av</text>
<text x="154.50 167.83 179.50 191.72 197.84 208.96 214.52 231.72 243.94 256.16 261.73 272.29" y="885" transform="rotate(-45 140 880)">Santa Monica</text>
<text x="194.50 205.61 217.28 223.95 235.62 241.17 255.06 261.18 266.73 280.07 296.73" y="885" transform="rotate(-45 180 880)">17th St/SMC</text>
<text x="234.50 245.61 257.28 263.95 275.62 281.17 295.06 301.18 307.28 321.17 332.86 340.62 352.30 363.98 381.75 393.97" y="885" transform="rotate(-45 220 880)">26th St/Bergamot</text>
<text x="274.50 288.39 299.50 311.72 323.38 329.51 343.94 356.16 368.37 380.60" y="885" transform="rotate(-45 260 880)">Expo/Bundy</text>
<text x="314.50 328.39 339.50 351.72 363.38 368.95 382.28 393.95 406.17 418.40 423.96 434.52 446.19 457.86" y="885" transform="rotate(-45 300 880)">Expo/Sepulveda</text>
<text x="98.05 116.56 128.23 139.34 146.02 161.56 173.78 186.00 197.66 203.23 217.67 229.34 241.57 252.67 264.90 276.57 282.12 295.46 307.14 314.93" y="885" transform="rotate(-45 340 880)">Westwood/Rancho Park</text>
<text x="394.50 407.83 419.52 425.08 442.86" y="885" transform="rotate(-45 380 880)">Palms</text>
<text x="434.50 449.48 461.71 467.27 477.83 489.52 496.73 502.30 517.29 522.85 529.52" y="885" transform="rotate(-45 420 880)">Culver City</text>
<text x="475.05 486.70 497.83 503.39 518.38 523.40 535.07 546.73 558.40 570.06 581.19 587.31 597.88 609.73 616.20 622.32 634.00 641.78 652.89 665.12" y="885" transform="rotate(-45 460 880)">La Cienega/Jefferson</text>
<text x="357.67 371.56 382.67 394.89 406.55 412.67 424.34 435.45 441.56 456.02 463.23 474.36" y="885" transform="rotate(-45 500 880)">Expo/La Brea</text>
<text x="554.50 566.70 578.39 586.17 603.95 615.62 627.30 632.30" y="885" transform="rotate(-45 540 880)">Farmdale</text>
<text x="654.50 668.39 679.50 691.72 703.38 708.95 727.47 739.15 750.26 756.37 768.05 775.82" y="885" transform="rotate(-45 640 880)">Expo/Western</text>
<text x="571.02 584.91 596.02 608.23 619.90 625.47 637.70 649.39 657.17 674.94 687.15 699.38" y="885" transform="rotate(-45 720 880)">Expo/Vermont</text>
<text x="599.89 613.78 624.89 637.11 648.77 654.34 667.67 679.36 687.15 697.71 703.27 717.71 731.04" y="885" transform="rotate(-45 760 880)">Expo Park/USC</text>
<text x="629.50 643.39 654.50 666.72 678.38 683.95 698.95 706.17 717.84 730.08 741.18 752.85 764.53" y="885" transform="rotate(-45 600 880)">Expo/Crenshaw</text>
<text x="815.06 825.62 837.46 843.96 850.07 861.74 869.53 880.64 892.86 904.52 910.08 924.52 937.86" y="845">Jefferson/USC</text>
<text x="578.67 590.88 603.30 615.51 627.73 642.16 647.73 663.84 671.62 678.27 690.48 702.16 707.72 713.82 726.05 737.16 743.84 749.38 756.03 768.26 774.37" y="765" transform="rotate(-45 800 760)">LATTC/Ortho Institute</text>
<text x="1054.50 1068.38 1073.95 1085.07 1096.73 1102.84 1117.29 1122.84 1128.41 1139.52" y="565" transform="rotate(45 1040 560)">Pico/Aliso</text>
<text x="1094.50 1111.16 1122.84 1130.62 1135.61 1147.30 1158.41 1170.64 1175.63 1181.19 1195.09 1200.09 1211.21 1221.21" y="565" transform="rotate(45 1080 560)">Mariachi Plaza</text>
<text x="1134.50 1148.38 1160.59 1167.25" y="565" transform="rotate(45 1120 560)">Soto</text>
<text x="1174.50 1180.59 1192.81 1205.04 1210.04 1221.70 1233.38" y="565" transform="rotate(45 1160 560)">Indiana</text>
<text x="1214.50 1231.16 1242.84 1250.06 1261.74 1272.87 1278.42 1283.98 1288.97" y="565" transform="rotate(45 1200 560)">Maravilla</text>
<text x="1254.50 1267.83 1279.52 1290.62 1296.74 1302.84 1315.25 1328.21 1333.77 1348.77 1354.33 1365.45 1371.02 1381.57 1387.13 1402.12 1408.80" y="565" transform="rotate(45 1240 560)">East LA Civic Ctr</text>
<text x="1295.05 1309.48 1316.16 1321.16 1332.82 1345.05 1351.71 1357.27" y="565" transform="rotate(45 1280 560)">Atlantic</text>
<text x="1175.05 1187.26 1201.16 1215.60 1227.28 1241.72 1255.06 1269.51 1275.06 1291.72 1303.39 1315.62 1321.18 1331.74 1343.41 1348.42 1353.97 1368.98 1375.63" y="525" transform="rotate(-45 1160 520)">LAC+USC Medical Ctr</text>
<text x="1214.50 1228.94 1240.62 1245.61 1251.18 1265.07 1271.17 1282.84 1288.96 1300.09 1306.18 1318.41" y="525" transform="rotate(-45 1200 520)">Cal State LA</text>
<text x="1254.50 1268.38 1273.39 1278.95 1296.16 1308.37 1320.59 1326.70" y="525" transform="rotate(-45 1240 520)">El Monte</text>
<text x="794.50 805.61 817.28 823.95 835.62 841.17 855.06 861.18 866.73 881.18 894.52" y="925">37th St/USC</text>
<text x="687.70 701.59 706.60 718.27 730.49 741.60 753.81" y="1005">Slauson</text>
<text x="794.50 811.16 822.83 835.06 846.16 857.83 869.52 880.62 886.73 898.42" y="1125">Manchester</text>
<text x="599.33 613.77 625.45 633.22 645.44 657.67 664.88 670.45 683.22 690.44 701.57 713.25 728.25 739.93" y="1205" transform="rotate(-45 780 1200)">Harbor Freeway</text>
<text x="663.22 678.20 690.44 700.99 712.68 723.80 731.02 742.69 754.92" y="1245" transform="rotate(-45 780 1240)">Rosecrans</text>
<text x="506.53 520.97 532.66 540.42 552.64 564.88 572.09 577.65 593.20 604.88 610.98 622.67 637.66 649.35 660.09 665.28 677.14 684.36 696.03 708.27 719.39 724.94 731.05 736.60 751.60 758.26" y="1285" transform="rotate(-45 780 1280)">Harbor Gateway Transit Ctr</text>
<text x="696.59 711.03 722.72 730.50 741.61 753.82" y="1385" transform="rotate(-45 780 1380)">Carson</text>
<text x="593.20 606.53 618.22 629.34 634.90 641.55 647.12 657.68 663.23 678.23 689.89 701.58 712.69 718.80 724.36 739.36 754.92" y="1425" transform="rotate(-45 780 1420)">Pacific Coast Hwy</text>
<text x="378.81 395.47 407.16 414.93 421.59 427.13 438.81 444.91 457.12 469.34 476.00 487.68 499.36 506.59 512.69 527.14 532.69 544.90 556.56 562.69 573.81 579.93" y="925" transform="rotate(-45 600 920)">Martin Luther King Jr.</text>
<text x="464.88 476.53 488.21 493.78 511.00 522.69 530.45 536.57 542.12 555.46 567.16 574.93" y="965" transform="rotate(-45 600 960)">Leimert Park</text>
<text x="487.66 502.66 513.77 525.43 536.56 542.11 555.45 567.14 574.92" y="1005" transform="rotate(-45 600 1000)">Hyde Park</text>
<text x="614.50 626.70 638.38 643.95 651.73 662.85 667.85 679.53 694.54 700.09 714.54 726.20 731.76 743.98 756.20 762.87" y="1045">Fairview Heights</text>
<text x="574.50 580.59 592.81 605.04 610.04 621.72 637.27 649.48 661.70" y="1085">Inglewood</text>
<text x="317.97 336.48 348.16 359.27 365.95 377.05 388.72 400.41 411.52 417.62 429.31 436.54 442.09 454.33 466.00 472.11 483.80 491.02 502.69 514.92" y="1105">Westchester/Veterans</text>
<text x="331.00 343.21 357.10 370.63 375.81 387.67 394.90 406.56 418.80 429.92 435.47 441.59 447.13 461.58 473.26 485.48 491.58 503.27" y="1145">LAX Transit Center</text>
<text x="351.58 365.47 376.59 381.60 393.27 399.94 405.48 417.70 429.36 434.92 449.36 461.03 473.26 479.91 492.13 499.92" y="1205">Aviation/Century</text>
<text x="417.69 434.34 446.03 453.80 459.34 471.56 483.80 494.36" y="1245">Mariposa</text>
<text x="395.50 409.38 414.39 419.95 433.28 444.95 457.17 469.40 481.62 493.82" y="1285">El Segundo</text>
<text x="426.59 441.58 453.80 466.02 478.24 483.23 494.92" y="1325">Douglas</text>
<text x="353.25 367.69 379.36 391.58 403.80 416.00 428.22 439.89 446.01 459.90 471.02 482.70 493.81" y="1365">Redondo Beach</text>
<text x="614.86 628.75 639.88 644.88 656.55 663.22 668.76 680.98 692.64 698.21 704.32 722.10 733.77 745.45 753.23 758.22 769.91" y="1205" transform="rotate(-45 600 1200)">Aviation/Imperial</text>
<text x="654.50 668.94 680.62 696.16 702.82 715.05 727.27 735.04 746.71 757.84 763.94 775.61 787.27 799.49 811.71 823.95" y="1205" transform="rotate(-45 640 1200)">Hawthorne/Lennox</text>
<text x="569.91 584.91 592.12 603.80 616.03 627.13 638.80 650.48" y="1205" transform="rotate(-45 680 1200)">Crenshaw</text>
<text x="552.14 564.38 576.06 583.84 601.61 613.82 626.05 632.15 638.26 652.71 659.36 671.03 682.70 694.93" y="1205" transform="rotate(-45 720 1200)">Vermont/Athens</text>
<text x="874.86 888.75 899.31 911.00 916.55 928.76" y="1205" transform="rotate(-45 860 1200)">Avalon</text>
<text x="995.05 1006.53 1017.64 1029.87 1045.41 1057.62 1069.84" y="1205" transform="rotate(-45 980 1200)">Lynwood</text>
<text x="1035.05 1046.70 1058.39 1068.95 1080.64 1096.19 1108.40 1120.61 1132.28 1138.40 1152.84" y="1205" transform="rotate(-45 1020 1200)">Lakewood Bl</text>
<text x="1074.50 1089.48 1101.72 1109.49 1124.49 1136.16 1141.73" y="1205" transform="rotate(-45 1060 1200)">Norwalk</text>
</g>
</svg>
</body></html>
